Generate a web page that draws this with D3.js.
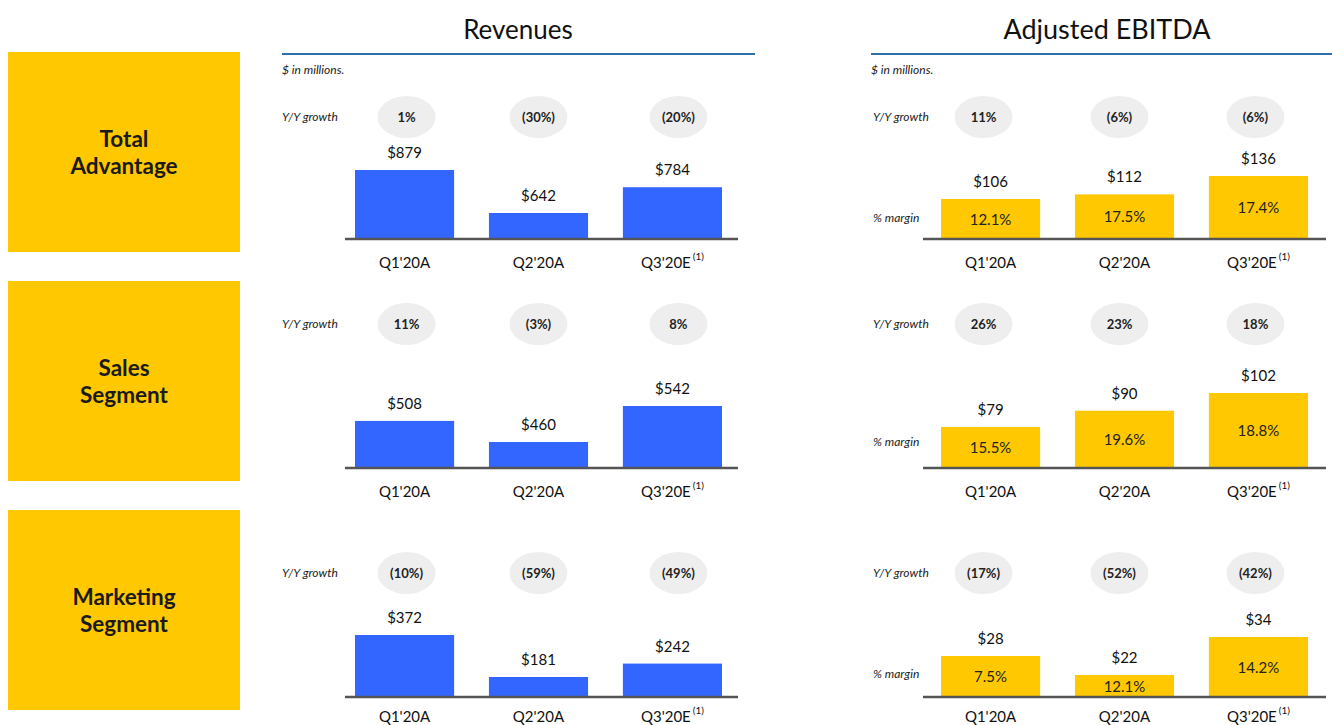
<!DOCTYPE html>
<html>
<head>
<meta charset="utf-8">
<script src="https://cdn.jsdelivr.net/npm/d3@7"></script>
<style>
  html, body { margin: 0; padding: 0; background: #fff; }
  svg { display: block; font-family: Lato, "Open Sans", sans-serif; }
</style>
</head>
<body>
<svg id="chart" width="1332" height="725"></svg>
<script>
// ---------- DATA ----------
const segments = [["Total", "Advantage"], ["Sales", "Segment"], ["Marketing", "Segment"]];
const quarters = ["Q1'20A", "Q2'20A", "Q3'20E"];
const quarterNotes = ["", "", "(1)"];

const revenue = [[879, 642, 784], [508, 460, 542], [372, 181, 242]];
const revenueGrowth = [["1%", "(30%)", "(20%)"], ["11%", "(3%)", "8%"], ["(10%)", "(59%)", "(49%)"]];

const ebitda = [[106, 112, 136], [79, 90, 102], [28, 22, 34]];
const ebitdaGrowth = [["11%", "(6%)", "(6%)"], ["26%", "23%", "18%"], ["(17%)", "(52%)", "(42%)"]];
const ebitdaMargin = [["12.1%", "17.5%", "17.4%"], ["15.5%", "19.6%", "18.8%"], ["7.5%", "12.1%", "14.2%"]];

const panelTitles = ["Revenues", "Adjusted EBITDA"];

// ---------- LAYOUT ----------
const YELLOW = "#FFC800";
const BLUE = "#3366FF";
const svg = d3.select("#chart");

const rowTop = [52, 281, 510];
const boxH = 200;
const baselines = [238, 467, 696];
const growthY = [117, 324, 573];
const marginLabelY = [218, 442, 674];
const catLabelOffset = [30, 30, 26];
// bar height range (min bar, max bar) per row
const revH = [[25, 68], [25, 61], [19, 61]];
const ebH = [[39, 62], [40, 74], [21, 59]];

const panels = [
  { title: panelTitles[0], titleSize: 26, cx: 518, lineX: [282, 755], labelX: 282, band: [355, 722], axis: [345, 738],
    bubbleDx: [2, 0, 6], values: revenue, growth: revenueGrowth, heights: revH, color: BLUE },
  { title: panelTitles[1], titleSize: 27, cx: 1107, lineX: [871, 1332], labelX: 873, band: [941, 1308], axis: [923, 1326],
    bubbleDx: [-7, -5, -3], values: ebitda, growth: ebitdaGrowth, heights: ebH, color: YELLOW, margin: ebitdaMargin }
];

// Left boxes
segments.forEach((lines, i) => {
  svg.append("rect").attr("x", 8).attr("y", rowTop[i]).attr("width", 232).attr("height", boxH).attr("fill", YELLOW);
  const t = svg.append("text").attr("x", 124).attr("y", rowTop[i] + boxH / 2 - 5)
    .attr("text-anchor", "middle").attr("font-size", 22.5).attr("font-weight", "bold").attr("fill", "#1a1a1a");
  lines.forEach((l, k) => t.append("tspan").attr("x", 124).attr("dy", k === 0 ? 0 : 27).text(l));
});

panels.forEach(p => {
  svg.append("text").attr("x", p.cx).attr("y", 39).attr("text-anchor", "middle")
    .attr("font-size", p.titleSize).attr("fill", "#111").text(p.title);
  svg.append("line").attr("x1", p.lineX[0]).attr("x2", p.lineX[1]).attr("y1", 54).attr("y2", 54)
    .attr("stroke", "#2F6FA8").attr("stroke-width", 2);
  svg.append("text").attr("x", p.lineX[0]).attr("y", 74).attr("font-size", 12).attr("font-style", "italic")
    .attr("fill", "#222").text("$ in millions.");

  const x = d3.scaleBand().domain(quarters).range(p.band).paddingInner(0.26).paddingOuter(0);

  p.values.forEach((vals, r) => {
    const base = baselines[r];
    const y = d3.scaleLinear().domain(d3.extent(vals)).range([base - p.heights[r][0], base - p.heights[r][1]]);
    const g = svg.append("g");

    // growth row
    g.append("text").attr("x", p.labelX).attr("y", growthY[r] + 4).attr("font-size", 12)
      .attr("font-style", "italic").attr("fill", "#222").text("Y/Y growth");
    quarters.forEach((q, i) => {
      const cx = x(q) + x.bandwidth() / 2 + p.bubbleDx[i];
      g.append("ellipse").attr("cx", cx).attr("cy", growthY[r]).attr("rx", 29).attr("ry", 21).attr("fill", "#EEEEEE");
      g.append("text").attr("x", cx).attr("y", growthY[r] + 4.5).attr("text-anchor", "middle")
        .attr("font-size", 13).attr("font-weight", "bold").attr("fill", "#222").text(p.growth[r][i]);
    });

    // bars
    g.selectAll("rect.bar").data(vals).join("rect").attr("class", "bar")
      .attr("x", (d, i) => x(quarters[i])).attr("width", x.bandwidth())
      .attr("y", d => y(d)).attr("height", d => base - y(d)).attr("fill", p.color);

    // value labels
    g.selectAll("text.val").data(vals).join("text").attr("class", "val")
      .attr("x", (d, i) => x(quarters[i]) + x.bandwidth() / 2).attr("y", d => y(d) - 12)
      .attr("text-anchor", "middle").attr("font-size", 15).attr("fill", "#111").text(d => "$" + d);

    // margin labels
    if (p.margin) {
      g.append("text").attr("x", p.labelX).attr("y", marginLabelY[r] + 4)
        .attr("font-size", 12).attr("font-style", "italic").attr("fill", "#222").text("% margin");
      g.selectAll("text.mg").data(vals).join("text").attr("class", "mg")
        .attr("x", (d, i) => x(quarters[i]) + x.bandwidth() / 2).attr("y", d => (y(d) + base) / 2 + 6)
        .attr("text-anchor", "middle").attr("font-size", 15).attr("fill", "#222")
        .text((d, i) => p.margin[r][i]);
    }

    // baseline
    g.append("line").attr("x1", p.axis[0]).attr("x2", p.axis[1]).attr("y1", base + 1).attr("y2", base + 1)
      .attr("stroke", "#555").attr("stroke-width", 2.5);

    // category labels
    quarters.forEach((q, i) => {
      const t = g.append("text").attr("x", x(q) + x.bandwidth() / 2).attr("y", base + catLabelOffset[r])
        .attr("text-anchor", "middle").attr("font-size", 15).attr("fill", "#111");
      t.append("tspan").text(q);
      if (quarterNotes[i]) t.append("tspan").attr("dy", -8).attr("font-size", 10).attr("dx", 2).text(quarterNotes[i]);
    });
  });
});
</script>
</body>
</html>
